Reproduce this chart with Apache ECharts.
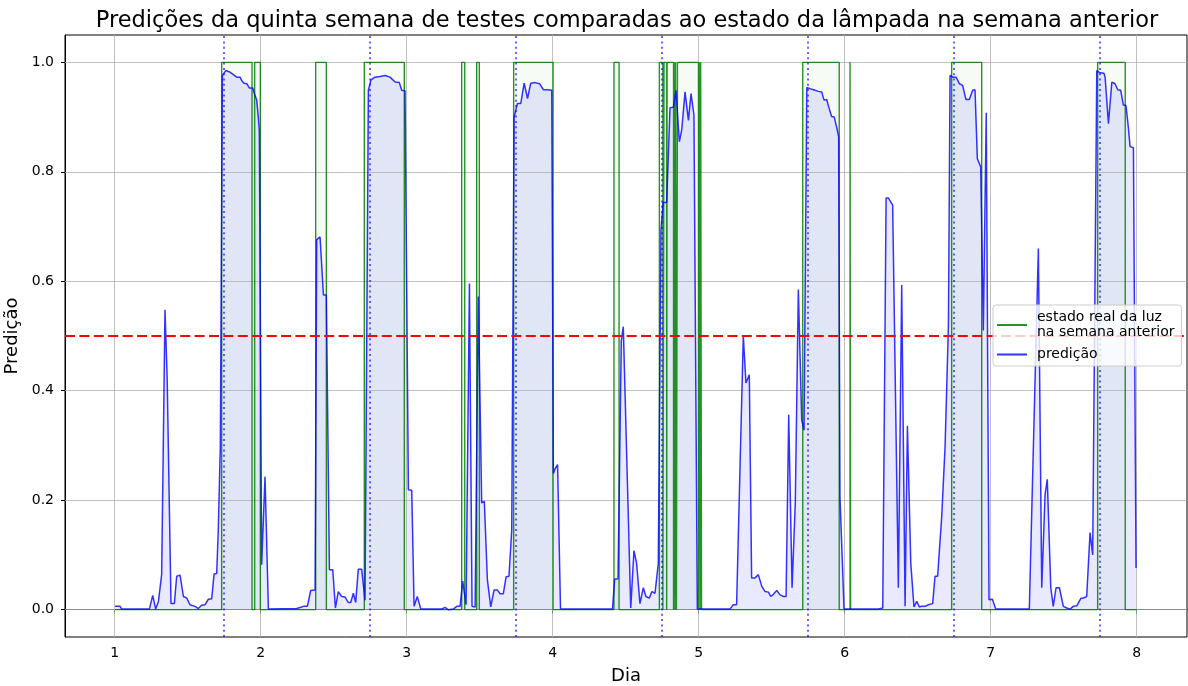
<!DOCTYPE html>
<html>
<head>
<meta charset="utf-8">
<script src="https://cdn.jsdelivr.net/npm/echarts@6/dist/echarts.min.js"></script>
<style>
html,body{margin:0;padding:0;background:#fff;}
#c{width:1188px;height:686px;}
</style>
</head>
<body>
<div id="c"></div>
<script>
// ---------- data ----------
const TITLE = 'Predições da quinta semana de testes comparadas ao estado da lâmpada na semana anterior';
const xTicks = [1, 2, 3, 4, 5, 6, 7, 8];
const yTicks = [0, 0.2, 0.4, 0.6, 0.8, 1.0];
const weekBoundaries = [1.75, 2.75, 3.75, 4.75, 5.75, 6.75, 7.75];
const threshold = 0.5;

// actual light state of the previous week (value holds until next day mark)
const stateDays = [1.003,1.733,1.941,1.959,1.998,2.377,2.450,2.710,2.984,3.377,3.398,3.480,3.498,3.733,4.003,4.420,4.455,4.731,4.755,4.763,4.781,4.784,4.828,4.832,4.838,4.842,4.848,4.855,4.999,5.004,5.010,5.014,5.020,5.713,5.963,6.037,6.041,6.733,6.939,7.733,7.922,8.000];
const stateValues = [0,1,0,1,0,1,0,1,0,1,0,1,0,1,0,1,0,1,0,1,0,1,0,1,0,1,0,1,0,1,0,1,0,1,0,1,0,1,0,1,0,0];

// model prediction
const predDays = [
1.003,1.037,1.048,1.238,1.261,1.281,1.300,1.322,1.345,1.360,1.386,1.409,1.425,1.448,1.471,1.494,1.516,1.551,1.573,1.596,1.619,1.642,1.665,1.681,1.699,1.710,1.724,1.738,
1.761,1.784,1.806,1.836,1.859,1.870,1.886,1.905,1.923,1.946,1.957,1.973,1.984,1.991,2.007,2.030,2.053,
2.247,2.270,2.293,2.320,2.343,2.373,2.384,2.407,2.430,2.450,2.471,2.494,2.512,2.532,2.555,2.578,2.601,2.617,2.635,2.651,2.669,2.692,2.715,2.738,
2.756,2.783,2.818,2.852,2.886,2.921,2.950,2.966,2.989,3.012,3.035,3.051,3.073,3.097,3.240,3.262,3.285,3.320,3.343,3.366,3.384,3.407,3.430,3.448,3.469,3.491,3.514,3.532,3.553,3.576,3.599,3.621,3.640,3.662,3.681,3.701,3.720,3.736,
3.759,3.782,3.805,3.828,3.850,3.880,3.910,3.937,3.964,3.994,4.005,4.018,4.034,4.054,4.410,4.425,4.448,4.470,4.484,4.535,4.557,4.575,4.598,4.621,4.639,4.662,4.680,4.701,4.724,4.742,4.757,4.781,4.804,4.827,4.845,4.868,4.884,4.907,4.930,4.948,4.968,4.991,
5.215,5.237,5.260,5.306,5.324,5.347,5.363,5.386,5.409,5.432,5.455,5.478,5.494,5.512,5.535,5.558,5.581,5.599,5.617,5.640,5.662,5.683,5.706,5.722,5.741,
5.763,5.786,5.820,5.843,5.859,5.877,5.895,5.911,5.929,5.950,5.959,5.968,5.996,6.231,6.261,6.284,6.300,6.329,6.368,6.391,6.414,6.430,6.453,6.475,6.494,6.512,6.528,6.551,6.573,6.603,6.619,6.637,6.665,6.688,6.711,6.722,
6.740,6.763,6.786,6.808,6.831,6.854,6.877,6.893,6.909,6.932,6.950,6.970,6.989,7.012,7.035,7.265,7.327,7.350,7.373,7.388,7.412,7.429,7.448,7.471,7.498,7.521,7.544,7.566,7.590,7.619,7.635,7.658,7.681,7.699,7.727,
7.749,7.776,7.784,7.807,7.830,7.852,7.871,7.891,7.909,7.927,7.943,7.955,7.978,7.996];
const predValues = [
0.006,0.006,0.001,0.001,0.026,0.001,0.015,0.064,0.548,0.420,0.011,0.011,0.061,0.063,0.024,0.021,0.009,0.006,0.002,0.008,0.009,0.019,0.020,0.065,0.066,0.146,0.300,0.976,
0.985,0.983,0.979,0.973,0.973,0.967,0.962,0.961,0.953,0.953,0.943,0.931,0.900,0.876,0.082,0.243,0.001,
0.002,0.004,0.006,0.006,0.035,0.036,0.676,0.681,0.575,0.575,0.073,0.073,0.003,0.033,0.024,0.023,0.013,0.013,0.030,0.013,0.074,0.074,0.017,0.949,
0.968,0.973,0.974,0.976,0.973,0.964,0.963,0.949,0.948,0.219,0.218,0.006,0.024,0.001,0.001,0.004,0.000,0.001,0.006,0.006,0.052,0.009,0.596,0.006,0.005,0.572,0.195,0.198,0.055,0.005,0.036,0.036,0.029,0.029,0.060,0.061,0.146,0.900,
0.925,0.925,0.962,0.934,0.962,0.963,0.961,0.950,0.950,0.949,0.249,0.258,0.265,0.001,0.001,0.056,0.056,0.490,0.517,0.003,0.108,0.085,0.011,0.040,0.024,0.021,0.033,0.030,0.085,0.693,0.744,0.744,0.917,0.918,0.949,0.855,0.876,0.946,0.894,0.943,0.903,0.001,
0.001,0.009,0.009,0.500,0.414,0.429,0.058,0.058,0.064,0.043,0.033,0.032,0.024,0.028,0.035,0.027,0.024,0.024,0.356,0.040,0.195,0.585,0.347,0.328,0.954,
0.952,0.950,0.947,0.946,0.931,0.932,0.915,0.901,0.900,0.876,0.864,0.207,0.001,0.001,0.003,0.752,0.752,0.739,0.040,0.593,0.006,0.336,0.085,0.005,0.015,0.005,0.006,0.006,0.009,0.011,0.061,0.061,0.170,0.298,0.520,0.976,
0.973,0.973,0.961,0.958,0.932,0.932,0.949,0.950,0.824,0.809,0.510,0.908,0.018,0.019,0.001,0.001,0.660,0.040,0.210,0.238,0.040,0.006,0.040,0.040,0.006,0.003,0.001,0.006,0.007,0.021,0.021,0.024,0.141,0.100,0.985,
0.981,0.980,0.973,0.888,0.964,0.961,0.950,0.949,0.922,0.921,0.882,0.846,0.844,0.076];

const STATE_NAME = 'estado real da luz\nna semana anterior';
const PRED_NAME = 'predição';

// ---------- chart ----------
const FONT = 'DejaVu Sans';
const predData = predDays.map((d, i) => [d, predValues[i]]);
const stateData = stateDays.map((d, i) => [d, stateValues[i]]);

const chart = echarts.init(document.getElementById('c'), null, {renderer: 'canvas', width: 1188, height: 686});

const gridLineStyle = {color: '#b0b0b0', width: 0.8, type: 'solid'};
const STATE_COLOR = 'rgba(0,128,0,0.85)';
const PRED_COLOR = 'rgba(0,0,255,0.8)';

const option = {
  animation: false,
  textStyle: {fontFamily: FONT},
  title: {
    text: TITLE, left: 622, top: 5, textAlign: 'center',
    textStyle: {fontSize: 22.5, fontWeight: 'normal', color: '#000', fontFamily: FONT}
  },
  grid: {left: 65, right: 1, top: 35, bottom: 49, show: true, borderColor: '#000', borderWidth: 1,
         backgroundColor: 'transparent', outerBoundsMode: 'none', containLabel: false},
  legend: {
    orient: 'vertical', left: 993, top: 305, z: 10,
    data: [{name: STATE_NAME, icon: 'rect'}, {name: PRED_NAME, icon: 'rect'}],
    itemWidth: 30, itemHeight: 2, itemGap: 7,
    padding: [5, 7, 4, 4],
    backgroundColor: 'rgba(255,255,255,0.8)', borderColor: '#cccccc', borderWidth: 1, borderRadius: 3,
    textStyle: {fontSize: 14, lineHeight: 15, color: '#000', fontFamily: FONT, padding: [0, 0, 0, 5]}
  },
  xAxis: {
    type: 'value', min: 0.66, max: 8.345,
    name: 'Dia', nameLocation: 'middle', nameGap: 30,
    nameTextStyle: {fontSize: 18, color: '#000', fontFamily: FONT},
    axisLine: {show: true, lineStyle: {color: '#000', width: 1}},
    axisTick: {show: true, length: 4, customValues: xTicks, lineStyle: {color: '#000', width: 1}},
    axisLabel: {customValues: xTicks, fontSize: 14, color: '#000', margin: 9, fontFamily: FONT, formatter: v => String(v)},
    splitLine: {show: false}
  },
  yAxis: {
    type: 'value', min: -0.05, max: 1.05,
    name: 'Predição', nameLocation: 'middle', nameGap: 38,
    nameTextStyle: {fontSize: 18, color: '#000', fontFamily: FONT},
    axisLine: {show: true, lineStyle: {color: '#000', width: 1}},
    axisTick: {show: true, length: 4, customValues: yTicks, lineStyle: {color: '#000', width: 1}},
    axisLabel: {customValues: yTicks, fontSize: 14, color: '#000', margin: 11, fontFamily: FONT, formatter: v => v.toFixed(1)},
    splitLine: {show: false}
  },
  series: [
    {
      name: 'predFill', type: 'line', data: predData, z: 1, silent: true,
      symbol: 'none', lineStyle: {width: 0}, areaStyle: {color: 'rgba(0,0,255,0.12)', origin: 'auto'}
    },
    {
      name: 'stateFill', type: 'line', step: 'end', data: stateData, z: 1, silent: true,
      symbol: 'none', lineStyle: {width: 0}, areaStyle: {color: 'rgba(0,128,0,0.05)', origin: 'auto'}
    },
    {
      name: 'gridLines', type: 'line', data: [], silent: true,
      markLine: {
        z: 1.5, silent: true, symbol: 'none', label: {show: false}, animation: false,
        lineStyle: gridLineStyle,
        data: xTicks.map(v => ({xAxis: v})).concat(yTicks.map(v => ({yAxis: v})))
      }
    },
    {
      name: STATE_NAME, type: 'line', step: 'end', data: stateData, z: 3,
      symbol: 'none', color: STATE_COLOR, itemStyle: {color: STATE_COLOR}, lineStyle: {color: STATE_COLOR, width: 1.4}
    },
    {
      name: PRED_NAME, type: 'line', data: predData, z: 3,
      symbol: 'none', color: PRED_COLOR, itemStyle: {color: PRED_COLOR}, lineStyle: {color: PRED_COLOR, width: 1.5}
    },
    {
      name: 'refLines', type: 'line', data: [], silent: true,
      markLine: {
        z: 4, silent: true, symbol: 'none', label: {show: false}, animation: false,
        data: [
          {yAxis: threshold, lineStyle: {color: '#ff0000', width: 2, type: [10, 4.4]}}
        ].concat(weekBoundaries.map(v => ({xAxis: v, lineStyle: {color: 'rgba(0,0,255,0.6)', width: 2, type: [2, 3.3]}})))
      }
    }
  ]
};
chart.setOption(option);
</script>
</body>
</html>
